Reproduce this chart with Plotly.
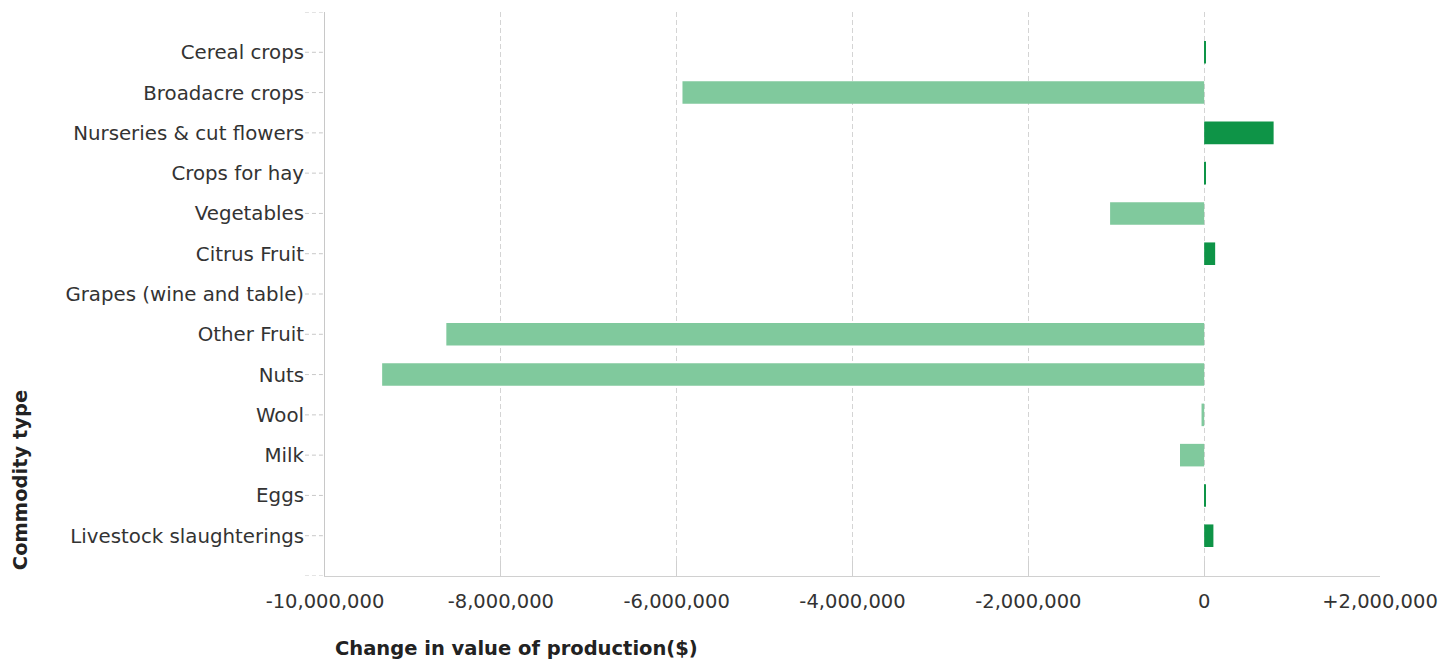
import plotly.graph_objects as go

categories = ["Cereal crops", "Broadacre crops", "Nurseries & cut flowers", "Crops for hay",
              "Vegetables", "Citrus Fruit", "Grapes (wine and table)", "Other Fruit", "Nuts",
              "Wool", "Milk", "Eggs", "Livestock slaughterings"]
values = [15000, -5934000, 790000, 12000, -1070000, 125000, 0, -8620000, -9350000,
          -30000, -275000, 15000, 105000]
tick_vals = [-10000000, -8000000, -6000000, -4000000, -2000000, 0, 2000000]
tick_text = ["-10,000,000", "-8,000,000", "-6,000,000", "-4,000,000", "-2,000,000", "0", "+2,000,000"]

POS = "#0E9447"
NEG = "#80C99D"
colors = [POS if v > 0 else NEG for v in values]

FONT = "DejaVu Sans"

fig = go.Figure()
fig.add_trace(go.Bar(
    x=values, y=categories, orientation="h",
    marker=dict(color=colors, line=dict(width=0)),
    width=0.56, hoverinfo="x+y",
))

# dashed tick marks on the category axis
for c in categories:
    fig.add_shape(type="line", xref="paper", yref="y", x0=-0.019, x1=-0.002, y0=c, y1=c,
                  line=dict(color="#c8c8c8", width=1, dash="4px,3px"))
for yv in [-1, len(categories)]:
    fig.add_shape(type="line", xref="paper", yref="y", x0=-0.019, x1=-0.002, y0=yv, y1=yv,
                  line=dict(color="#c8c8c8", width=1, dash="4px,3px"))

fig.update_layout(
    width=1444, height=653,
    margin=dict(l=317, r=72, t=4, b=85),
    paper_bgcolor="white", plot_bgcolor="white",
    showlegend=False,
    font=dict(family=FONT, size=19, color="#333333"),
    xaxis=dict(
        range=[-10000000, 2000000],
        tickvals=tick_vals, ticktext=tick_text,
        showgrid=True, gridcolor="#d4d4d4", gridwidth=1, griddash="5px,3px",
        zeroline=False,
        showline=True, linecolor="#d0d0d0", linewidth=1,
        ticks="inside", ticklen=15, tickcolor="#d0d0d0",
        ticklabelstandoff=8,
        tickfont=dict(family=FONT, size=19.5, color="#333333"),
        fixedrange=True,
    ),
    yaxis=dict(
        categoryorder="array", categoryarray=categories,
        range=[len(categories), -1],
        showgrid=False, zeroline=False,
        showline=True, linecolor="#c8c8c8", linewidth=1,
        ticks="", ticklabelstandoff=16,
        tickfont=dict(family=FONT, size=19.8, color="#333333"),
        fixedrange=True,
    ),
    annotations=[
        dict(text="<b>Change in value of production($)</b>", xref="paper", yref="paper",
             x=0.0076, y=-0.128, xanchor="left", yanchor="middle", showarrow=False,
             font=dict(family=FONT, size=19.5, color="#222222")),
        dict(text="<b>Commodity type</b>", xref="paper", yref="paper",
             x=-0.289, y=0.007, xanchor="center", yanchor="bottom", textangle=-90,
             showarrow=False, font=dict(family=FONT, size=19.5, color="#222222")),
    ],
)

fig.write_html("out.html")
